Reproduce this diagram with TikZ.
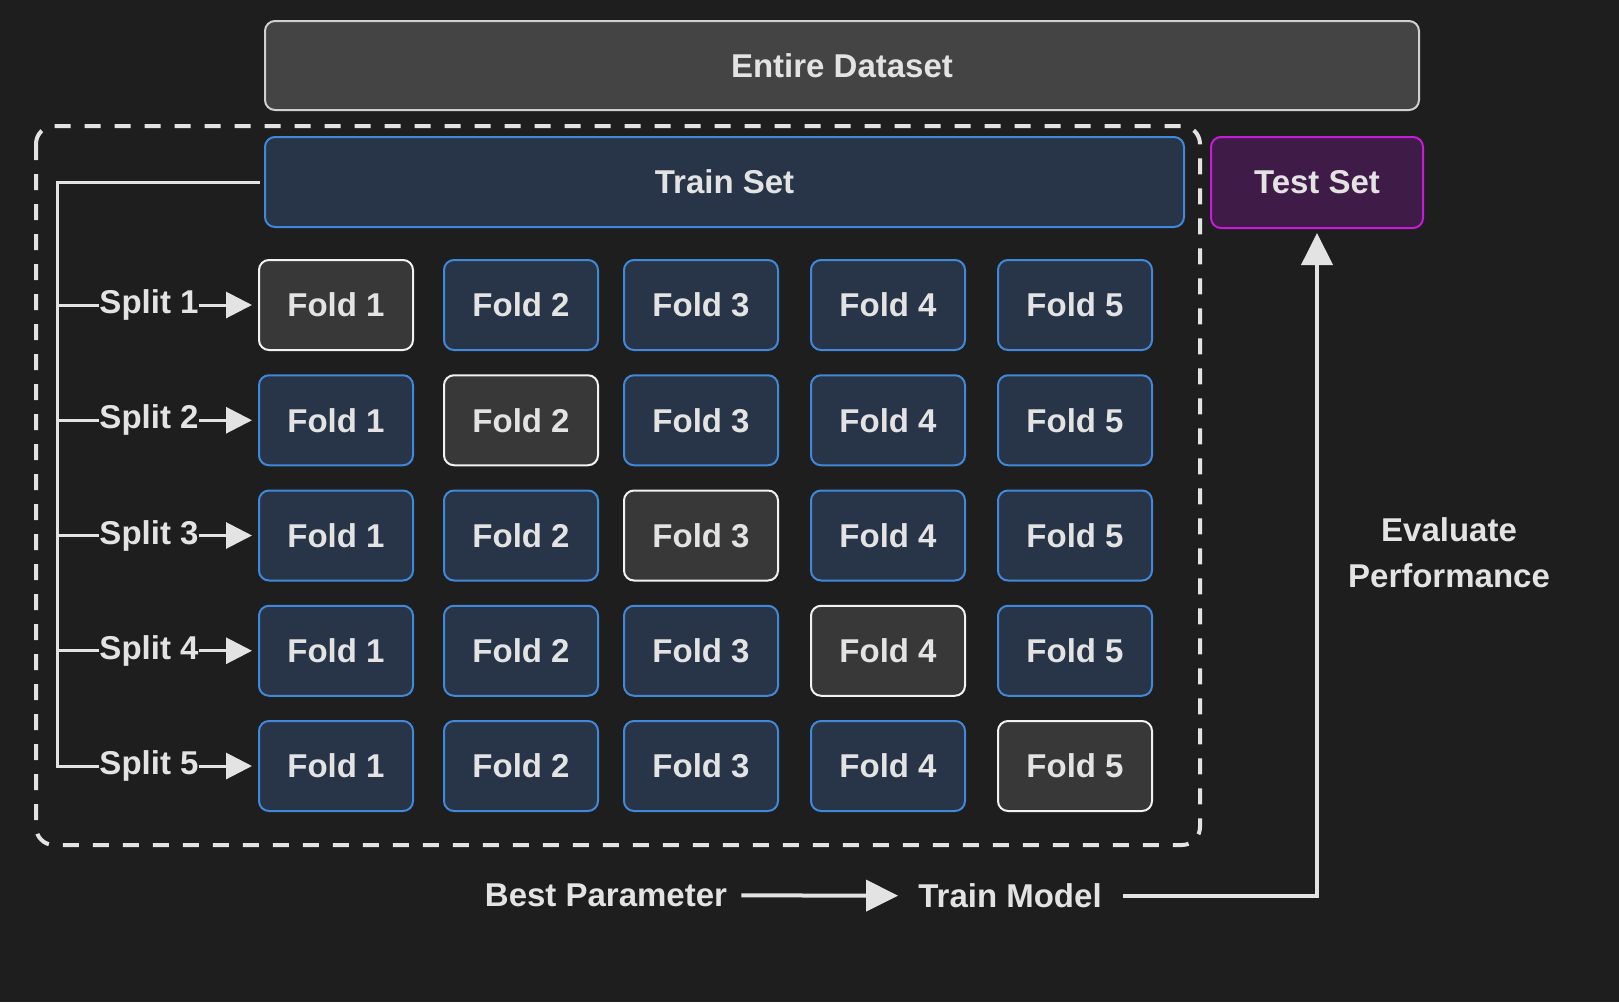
\documentclass[tikz,border=0pt]{standalone}
\usepackage{fontspec}
\setmainfont{Liberation Sans}
\usetikzlibrary{arrows.meta}
\definecolor{bgcol}{HTML}{1E1E1E}
\definecolor{txtcol}{HTML}{E3E3E3}
\definecolor{datafill}{HTML}{444444}
\definecolor{dataline}{HTML}{D0D0D0}
\definecolor{foldfill}{HTML}{283548}
\definecolor{foldline}{HTML}{4088DA}
\definecolor{pickfill}{HTML}{383838}
\definecolor{pickline}{HTML}{F2F2F2}
\definecolor{testfill}{HTML}{3F1B47}
\definecolor{testline}{HTML}{C61BD8}
\tikzset{
  box/.style={draw, rounded corners=10pt, line width=2pt, text=txtcol,
    font=\bfseries\fontsize{33}{40}\selectfont},
  foldbox/.style={box, draw=foldline, fill=foldfill, minimum width=154pt, minimum height=90pt},
  pickbox/.style={box, draw=pickline, fill=pickfill, minimum width=154pt, minimum height=90pt},
  lbl/.style={text=txtcol, inner sep=0pt, font=\bfseries\fontsize{33}{46}\selectfont},
  link/.style={draw=txtcol, line width=3pt},
  arrowto/.style={-{Triangle[length=26pt,width=26pt]}},
  bigarrow/.style={-{Triangle[length=32pt,width=31pt]}}
}
\begin{document}
\begin{tikzpicture}[x=1pt, y=-1pt]
\fill[bgcol] (0,0) rectangle (1619,1002);
\useasboundingbox (0,0) rectangle (1619,1002);

\node[box, draw=dataline, fill=datafill, minimum width=1154pt, minimum height=89pt] (dataset) at (842,65.5) {Entire Dataset};
\draw[txtcol, line width=4pt, dash pattern=on 16pt off 14pt, rounded corners=18pt] (36,126) rectangle (1200,845);
\node[box, draw=foldline, fill=foldfill, minimum width=919pt, minimum height=90pt] (trainset) at (724.5,182) {Train Set};
\node[box, draw=testline, fill=testfill, minimum width=212pt, minimum height=91pt] (testset) at (1317,182.5) {Test Set};

% splits and folds
\foreach \row in {1,...,5} {
  \pgfmathsetmacro\ry{305+115.25*(\row-1)}
  \foreach \col/\cx in {1/336,2/521,3/701,4/888,5/1075} {
    \ifnum\row=\col
      \node[pickbox] (f\row-\col) at (\cx,\ry) {Fold \col};
    \else
      \node[foldbox] (f\row-\col) at (\cx,\ry) {Fold \col};
    \fi
  }
  \node[lbl] (s\row) at (149,\ry) {Split \row};
  \coordinate (t\row) at (57,\ry);
  \draw[link, arrowto, shorten >=6pt] (s\row.east) -- (f\row-1.west);
}
\draw[link, shorten <=4pt] (trainset.west) -| (t5) -- (s5.west);
\foreach \row in {1,...,4}
  \draw[link] (t\row) -- (s\row.west);

% final model
\node[lbl] (bestpar) at (606,895) {Best Parameter};
\node[lbl] (trainmod) at (1010,896) {Train Model};
\node[lbl, align=center] (evalperf) at (1449,553) {Evaluate\\Performance};
\draw[link, line width=4pt, bigarrow, shorten <=14pt, shorten >=20pt] (bestpar) -- (trainmod);
\draw[link, line width=4pt, bigarrow, shorten <=21pt, shorten >=4pt] (trainmod.east) -| (testset.south);
\end{tikzpicture}
\end{document}
